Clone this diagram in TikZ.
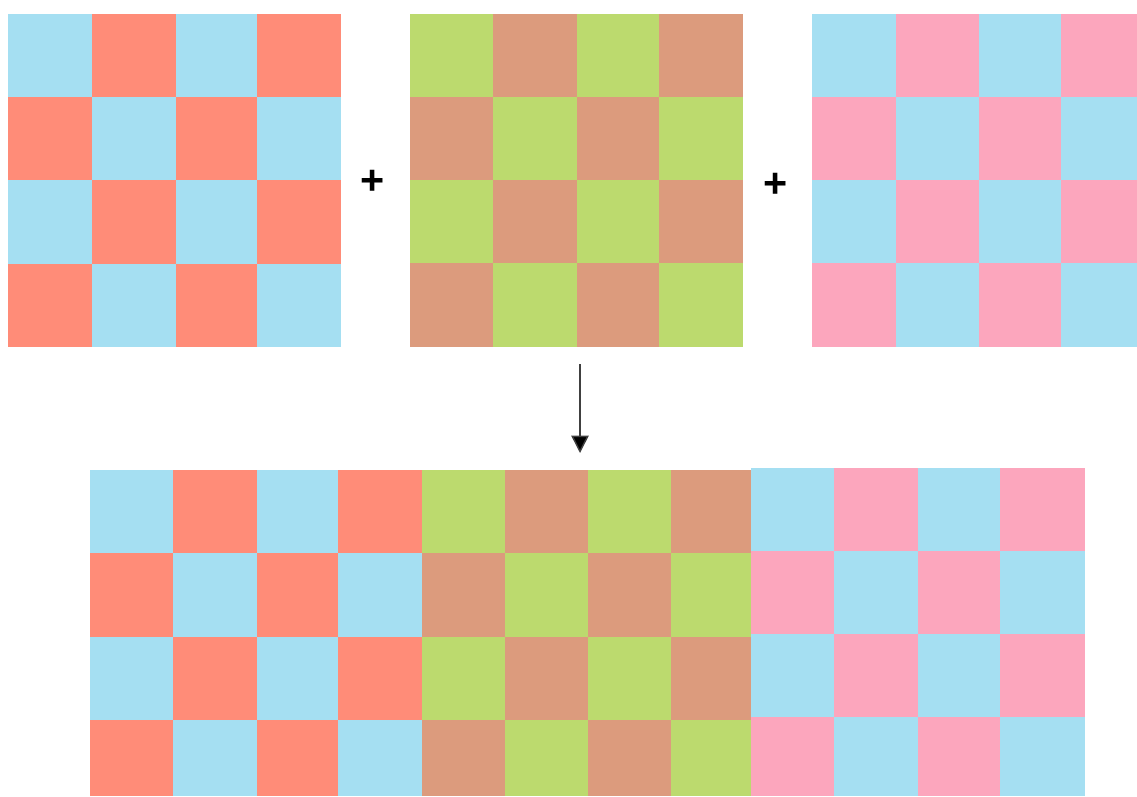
\documentclass[tikz,border=0pt]{standalone}
\usepackage{fontspec}
\setmainfont{Liberation Sans}
\usetikzlibrary{arrows.meta}
\definecolor{cblue}{HTML}{A5DFF2}
\definecolor{csalmon}{HTML}{FF8C78}
\definecolor{cgreen}{HTML}{BCDA6E}
\definecolor{ctan}{HTML}{DC9B7D}
\definecolor{cpink}{HTML}{FCA6BD}
\newcommand\checkgrid[4]{%
  \foreach \i/\xa/\xb in {#1}{%
    \foreach \j/\ya/\yb in {#2}{%
      \pgfmathtruncatemacro\p{mod(\i+\j,2)}%
      \ifnum\p=0
        \fill[#3] (\xa,\ya) rectangle (\xb,\yb);
      \else
        \fill[#4] (\xa,\ya) rectangle (\xb,\yb);
      \fi
    }}}
\tikzset{
  plussign/.style={font=\fontsize{31}{31}\selectfont\bfseries, inner sep=0pt},
  flowarrow/.style={draw=black!75, line width=1.1pt, -{Triangle[length=13pt,width=13pt,fill=black]}}
}
\begin{document}
\begin{tikzpicture}[x=0.75pt,y=-0.75pt]
\useasboundingbox (0,0) rectangle (1137,796);
% top grids
\checkgrid{0/8/92,1/92/176,2/176/257,3/257/341}{0/14/97,1/97/180,2/180/264,3/264/347}{cblue}{csalmon}
\checkgrid{0/410/493,1/493/577,2/577/659,3/659/743}{0/14/97,1/97/180,2/180/263,3/263/347}{cgreen}{ctan}
\checkgrid{0/812/896,1/896/979,2/979/1061,3/1061/1137}{0/14/97,1/97/180,2/180/263,3/263/347}{cblue}{cpink}
% plus signs
\node[plussign] (p1) at (373,182) {+};
\node[plussign] (p2) at (776,185) {+};
% arrow
\coordinate (a1) at (580,364);
\coordinate (a2) at (580,453);
\draw[flowarrow] (a1) -- (a2);
% bottom combined grid
\checkgrid{0/90/173,1/173/257,2/257/338,3/338/422}{0/470/553,1/553/637,2/637/720,3/720/796}{cblue}{csalmon}
\checkgrid{0/422/505,1/505/588,2/588/671,3/671/751}{0/470/553,1/553/637,2/637/720,3/720/796}{cgreen}{ctan}
\checkgrid{0/751/834,1/834/918,2/918/1000,3/1000/1085}{0/468/551,1/551/634,2/634/717,3/717/796}{cblue}{cpink}
\end{tikzpicture}
\end{document}
